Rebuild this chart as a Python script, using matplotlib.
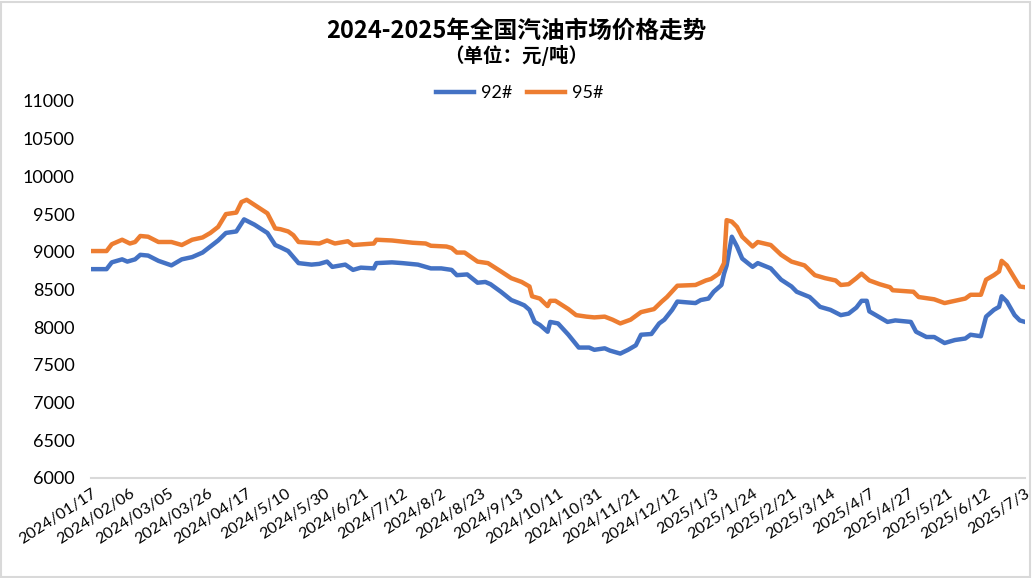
import matplotlib.pyplot as plt
from matplotlib.patches import Rectangle

plt.rcParams['font.family'] = ['Lato', 'Noto Sans CJK SC', 'DejaVu Sans']

# trading-day index -> price (yuan/ton)
days92 = [0, 6, 8, 12, 14, 17, 19, 22, 26, 31, 35, 39, 43, 46, 49, 52, 56, 59, 63, 68, 71,
          73, 76, 80, 85, 88, 91, 93, 98, 101, 104, 109, 110, 116, 120, 126, 131, 135, 139,
          141, 145, 149, 152, 154, 158, 162, 165, 167, 169, 171, 173, 176, 177, 180, 184,
          188, 192, 194, 198, 200, 204, 207, 210, 212, 216, 219, 221, 224, 226, 233, 235,
          238, 240, 243, 244, 245, 247, 249, 251, 255, 257, 262, 266, 270, 272, 277, 281,
          285, 289, 292, 295, 297, 299, 300, 303, 307, 310, 316, 318, 322, 325, 329, 333,
          337, 339, 343, 345, 348, 350, 351, 353, 356, 358, 360]
vals92 = [8770, 8770, 8860, 8900, 8870, 8900, 8960, 8950, 8880, 8820, 8900, 8930, 8990, 9070,
          9150, 9250, 9270, 9430, 9360, 9250, 9090, 9060, 9010, 8850, 8830, 8840, 8870, 8800,
          8830, 8760, 8790, 8780, 8850, 8860, 8850, 8830, 8780, 8780, 8760, 8690, 8700, 8590,
          8600, 8570, 8470, 8360, 8320, 8290, 8230, 8070, 8030, 7940, 8070, 8050, 7900, 7730,
          7730, 7700, 7720, 7690, 7650, 7700, 7760, 7900, 7910, 8050, 8100, 8230, 8340, 8320,
          8360, 8380, 8470, 8560, 8710, 8820, 9200, 9070, 8910, 8800, 8850, 8780, 8630, 8540,
          8470, 8400, 8270, 8230, 8160, 8180, 8260, 8350, 8350, 8210, 8150, 8070, 8090, 8070,
          7940, 7870, 7870, 7790, 7830, 7850, 7900, 7880, 8140, 8230, 8270, 8410, 8340, 8160,
          8090, 8070]

days95 = [0, 6, 8, 12, 15, 17, 19, 22, 26, 31, 35, 39, 43, 46, 49, 52, 56, 58, 60, 64, 68,
          71, 73, 76, 78, 80, 88, 91, 94, 99, 101, 109, 110, 116, 124, 129, 131, 137, 139,
          141, 144, 149, 153, 158, 162, 166, 169, 170, 173, 176, 177, 179, 184, 187, 191,
          194, 198, 201, 204, 208, 212, 217, 220, 222, 226, 233, 237, 239, 242, 244, 245,
          247, 249, 251, 255, 257, 262, 266, 270, 275, 279, 283, 287, 289, 292, 295, 297,
          300, 304, 308, 309, 317, 319, 325, 329, 333, 337, 339, 343, 345, 348, 350, 351,
          353, 356, 358, 360]
vals95 = [9010, 9010, 9100, 9160, 9110, 9130, 9210, 9200, 9130, 9130, 9090, 9160, 9190, 9250,
          9330, 9500, 9520, 9660, 9690, 9600, 9510, 9310, 9300, 9270, 9220, 9130, 9110, 9150,
          9110, 9140, 9090, 9110, 9160, 9150, 9120, 9110, 9080, 9070, 9050, 8990, 8990, 8870,
          8850, 8740, 8650, 8600, 8540, 8410, 8380, 8280, 8350, 8350, 8240, 8160, 8140, 8130,
          8140, 8100, 8050, 8100, 8200, 8240, 8340, 8400, 8550, 8560, 8620, 8640, 8710, 8850,
          9420, 9400, 9330, 9200, 9070, 9130, 9090, 8960, 8870, 8820, 8690, 8650, 8620, 8560,
          8570, 8650, 8710, 8620, 8570, 8530, 8490, 8470, 8400, 8370, 8320, 8350, 8380, 8430,
          8430, 8630, 8690, 8740, 8880, 8820, 8650, 8540, 8530]

tick_labels = ['2024/01/17', '2024/02/06', '2024/03/05', '2024/03/26', '2024/04/17',
               '2024/5/10', '2024/5/30', '2024/6/21', '2024/7/12', '2024/8/2', '2024/8/23',
               '2024/9/13', '2024/10/11', '2024/10/31', '2024/11/21', '2024/12/12',
               '2025/1/3', '2025/1/24', '2025/2/21', '2025/3/14', '2025/4/7', '2025/4/27',
               '2025/5/21', '2025/6/12', '2025/7/3']

fig = plt.figure(figsize=(10.32, 5.78), dpi=100)
ax = fig.add_axes([91 / 1032, 100 / 578, 934 / 1032, 377 / 578])

ax.plot(days92, vals92, color='#4472C4', linewidth=3.2, label='92#', solid_joinstyle='round')
ax.plot(days95, vals95, color='#ED7D31', linewidth=3.2, label='95#', solid_joinstyle='round')

ax.set_xlim(0, 360)
ax.set_ylim(6000, 11000)
ax.set_yticks(range(6000, 11001, 500))
ax.set_xticks(range(0, 361, 15))
ax.set_xticklabels(tick_labels, rotation=33, ha='right', va='top',
                   rotation_mode='anchor', fontsize=11.5)
ax.tick_params(axis='y', length=0, pad=12, labelsize=13)
ax.tick_params(axis='x', length=0, pad=6)

for s in ['top', 'right', 'left']:
    ax.spines[s].set_visible(False)
ax.spines['bottom'].set_color('#d9d9d9')
ax.spines['bottom'].set_linewidth(1.5)

fig.text(0.5, 1 - 31 / 578, '2024-2025年全国汽油市场价格走势', ha='center', va='center',
         fontsize=17, fontweight='bold', family=['Noto Sans CJK SC'])
fig.text(0.5, 1 - 55 / 578, '（单位：元/吨）', ha='center', va='center',
         fontsize=14, fontweight='bold', family=['Noto Sans CJK SC'])

ax.legend(loc='center', bbox_to_anchor=(520 / 1032, 1 - 93 / 578),
          bbox_transform=fig.transFigure, ncol=2, frameon=False, fontsize=13,
          handlelength=2.1, columnspacing=0.8, handletextpad=0.4)

fig.patches.append(Rectangle((0.001, 0.002), 0.997, 0.995, transform=fig.transFigure,
                             fill=False, edgecolor='#d9d9d9', linewidth=1.5))

fig.savefig('out.png', dpi=100)
